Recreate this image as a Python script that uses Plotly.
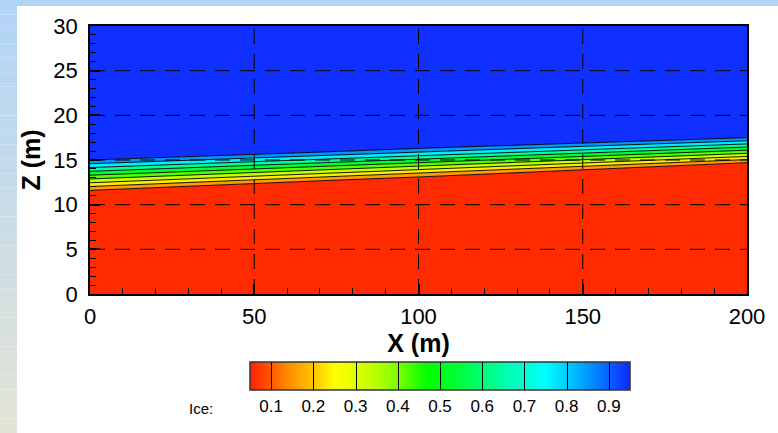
import plotly.graph_objects as go

# ---------------- data ----------------
x_stations = [0, 25, 50, 75, 100, 125, 150, 175, 200]          # X (m)
ice_levels = [0.1, 0.2, 0.3, 0.4, 0.5, 0.6, 0.7, 0.8, 0.9]     # contour levels

# height (m) of each ice contour level at every x station
z_lev_01 = [11.60, 12.00, 12.40, 12.75, 13.10, 13.50, 13.90, 14.30, 14.70]
z_lev_02 = [12.03, 12.41, 12.80, 13.15, 13.50, 13.89, 14.28, 14.66, 15.05]
z_lev_03 = [12.45, 12.83, 13.20, 13.55, 13.90, 14.28, 14.65, 15.03, 15.40]
z_lev_04 = [12.88, 13.24, 13.60, 13.95, 14.30, 14.66, 15.03, 15.39, 15.75]
z_lev_05 = [13.30, 13.65, 14.00, 14.35, 14.70, 15.05, 15.40, 15.75, 16.10]
z_lev_06 = [13.73, 14.06, 14.40, 14.75, 15.10, 15.44, 15.78, 16.11, 16.45]
z_lev_07 = [14.15, 14.48, 14.80, 15.15, 15.50, 15.83, 16.15, 16.48, 16.80]
z_lev_08 = [14.58, 14.89, 15.20, 15.55, 15.90, 16.21, 16.53, 16.84, 17.15]
z_lev_09 = [15.00, 15.30, 15.60, 15.95, 16.30, 16.60, 16.90, 17.20, 17.50]
level_heights = [z_lev_01, z_lev_02, z_lev_03, z_lev_04, z_lev_05,
                 z_lev_06, z_lev_07, z_lev_08, z_lev_09]

x_range = [0, 200]
z_range = [0, 30]
x_ticks = [0, 50, 100, 150, 200]
z_ticks = [0, 5, 10, 15, 20, 25, 30]
cbar_range = [0.05, 0.95]
cbar_ticks = [0.1, 0.2, 0.3, 0.4, 0.5, 0.6, 0.7, 0.8, 0.9]

# ---------------- styles ----------------
band_colors = ["#ff2a00", "#ff9a00", "#ffec00", "#c2ff00", "#52ff00",
               "#00ff34", "#00ff9c", "#00efff", "#0096ff", "#1030ff"]
colorscale = [
    [0.000, "#ff2000"], [0.056, "#ff5a00"], [0.111, "#ff9800"],
    [0.167, "#ffc400"], [0.222, "#ffff00"], [0.278, "#e0ff00"],
    [0.333, "#b8ff00"], [0.389, "#7cff00"], [0.467, "#00ff00"],
    [0.556, "#00ff40"], [0.667, "#00ffa8"], [0.778, "#00ffff"],
    [0.889, "#0098ff"], [1.000, "#1028ff"],
]
FONT = "Liberation Sans, Arial, Helvetica, sans-serif"

fig = go.Figure()

# bottom boundary (axis floor)
fig.add_trace(go.Scatter(x=x_stations, y=[z_range[0]] * len(x_stations),
                         mode="lines", line=dict(width=0, color="rgba(0,0,0,0)"),
                         hoverinfo="skip", showlegend=False))
# filled contour bands and black contour lines
for i, zl in enumerate(level_heights):
    fig.add_trace(go.Scatter(x=x_stations, y=zl, mode="lines",
                             fill="tonexty", fillcolor=band_colors[i],
                             line=dict(color="black", width=0.9),
                             name=f"Ice = {ice_levels[i]:.1f}",
                             showlegend=False))
# top boundary (axis ceiling)
fig.add_trace(go.Scatter(x=x_stations, y=[z_range[1]] * len(x_stations),
                         mode="lines", fill="tonexty", fillcolor=band_colors[-1],
                         line=dict(width=0, color="rgba(0,0,0,0)"),
                         hoverinfo="skip", showlegend=False))

W, H = 778, 433
L, R, T, B = 90, 31, 26, 139
pw, ph = W - L - R, H - T - B
def px2x(p): return (p - L) / pw
def py2y(p): return (H - B - p) / ph

# colour legend (contour colorbar); the trace itself lies outside the visible range
fig.add_trace(go.Contour(
    x=[x_range[0] - 60, x_range[0] - 50], y=[z_range[0] - 20, z_range[0] - 10],
    z=[[cbar_range[0], cbar_range[1]], [cbar_range[0], cbar_range[1]]],
    zmin=cbar_range[0], zmax=cbar_range[1], colorscale=colorscale,
    contours=dict(start=cbar_ticks[0], end=cbar_ticks[-1], size=0.1,
                  coloring="heatmap", showlines=True),
    line=dict(color="black", width=1),
    hoverinfo="skip", showlegend=False,
    colorbar=dict(orientation="h", lenmode="pixels", len=380,
                  thickness=28, thicknessmode="pixels",
                  x=px2x(440), xanchor="center", y=py2y(362), yanchor="top",
                  outlinecolor="#333333", outlinewidth=1.5,
                  tickvals=cbar_ticks, ticktext=[f"{v:.1f}" for v in cbar_ticks],
                  ticks="", tickfont=dict(family=FONT, size=17, color="black"),
                  ypad=0, xpad=0),
))

# dashed grid drawn above the flood (as in the reference)
shapes = []
for xv in x_ticks[1:-1]:
    shapes.append(dict(type="line", xref="x", yref="y", x0=xv, x1=xv,
                       y0=z_range[0], y1=z_range[1], layer="above",
                       line=dict(color="black", width=1, dash="15px,10px")))
for zv in z_ticks[1:-1]:
    shapes.append(dict(type="line", xref="x", yref="y", x0=x_range[0], x1=x_range[1],
                       y0=zv, y1=zv, layer="above",
                       line=dict(color="black", width=1, dash="15px,10px")))

# light-blue frame of the slide (left gradient strip and top strip)
top_c = (178, 212, 246)
bot_c = (226, 228, 214)
n_strips = 30
for k in range(n_strips):
    t = k / (n_strips - 1)
    c = tuple(round(top_c[j] + (bot_c[j] - top_c[j]) * t) for j in range(3))
    shapes.append(dict(type="rect", xref="paper", yref="paper", layer="below",
                       x0=px2x(0), x1=px2x(17),
                       y0=py2y(H * (k + 1) / n_strips), y1=py2y(H * k / n_strips),
                       fillcolor=f"rgb{c}", line=dict(width=0)))
shapes.append(dict(type="rect", xref="paper", yref="paper", layer="below",
                   x0=px2x(0), x1=px2x(W), y0=py2y(6), y1=py2y(0),
                   fillcolor="rgb(178,212,246)", line=dict(width=0)))

fig.update_layout(
    width=W, height=H,
    margin=dict(l=L, r=R, t=T, b=B),
    paper_bgcolor="white", plot_bgcolor="white",
    font=dict(family=FONT, color="black"),
    shapes=shapes,
    annotations=[dict(text="Ice:", xref="paper", yref="paper",
                      x=px2x(201), y=py2y(408), xanchor="center", yanchor="middle",
                      showarrow=False, font=dict(family=FONT, size=15, color="black"))],
    xaxis=dict(range=x_range, tickvals=x_ticks, showgrid=False, zeroline=False,
               showline=True, linecolor="black", linewidth=1.5, mirror=True,
               ticks="inside", ticklen=10, tickwidth=1.5, tickcolor="black",
               minor=dict(dtick=10, ticks="inside", ticklen=6, tickwidth=1,
                          tickcolor="black", showgrid=False),
               tickfont=dict(family=FONT, size=22), ticklabelstandoff=2,
               title=dict(text="<b>X (m)</b>", font=dict(family=FONT, size=25),
                          standoff=0)),
    yaxis=dict(range=z_range, tickvals=z_ticks, showgrid=False, zeroline=False,
               showline=True, linecolor="black", linewidth=1.5, mirror=True,
               ticks="inside", ticklen=10, tickwidth=1.5, tickcolor="black",
               minor=dict(dtick=1, ticks="inside", ticklen=6, tickwidth=1,
                          tickcolor="black", showgrid=False),
               tickfont=dict(family=FONT, size=22), ticklabelstandoff=6,
               title=dict(text="<b>Z (m)</b>", font=dict(family=FONT, size=25),
                          standoff=6)),
)

fig.write_html("out.html", config={"displayModeBar": False},
               post_script="document.body.style.margin='0px';")
